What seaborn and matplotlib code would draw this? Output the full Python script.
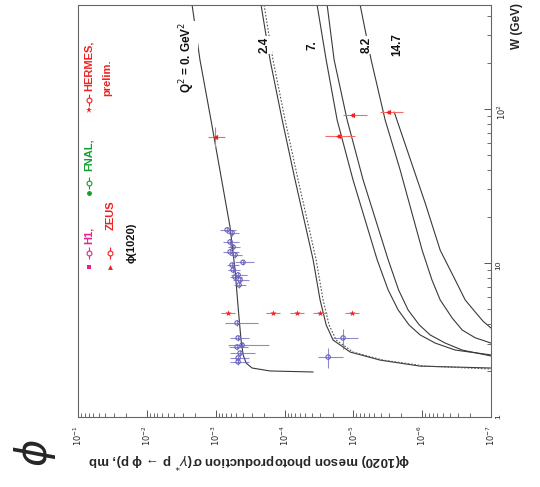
import matplotlib
matplotlib.use("Agg")
import pandas as pd
import seaborn as sns
import matplotlib.pyplot as plt
from matplotlib.ticker import FixedLocator, FixedFormatter, LogLocator, NullFormatter

# ---------------- model curves: W (GeV) vs sigma (mb) ----------------
q0_w = [473, 208, 84.8, 17.1, 9.01, 5.18, 3.16, 2.53, 2.24, 2.08, 1.99, 1.96]
q0_sig = [2.20e-3, 1.69e-3, 1.17e-3, 6.18e-4, 5.23e-4, 4.72e-4, 4.28e-4, 3.99e-4, 3.61e-4, 2.96e-4, 1.62e-4, 3.84e-5]

q24_w = [473, 208, 84.8, 34.6, 10.5, 5.75, 3.96, 3.16, 2.64, 2.34, 2.14, 2.08]
q24_sig = [2.19e-4, 1.62e-4, 1.08e-4, 7.02e-5, 3.84e-5, 3.04e-5, 2.48e-5, 1.97e-5, 1.11e-5, 4.07e-6, 1.07e-6, 1.0e-7]

q24b_w = [473, 208, 84.8, 34.6, 10.5, 5.75, 3.96, 3.16, 2.64, 2.34, 2.14, 2.05]
q24b_sig = [1.98e-4, 1.47e-4, 9.8e-5, 6.34e-5, 3.47e-5, 2.75e-5, 2.25e-5, 1.78e-5, 1.01e-5, 3.69e-6, 9.04e-7, 1.0e-7]

q7_w = [473, 208, 84.8, 34.6, 10.5, 6.68, 4.95, 3.96, 3.41, 3.02, 2.72, 2.53]
q7_sig = [3.36e-5, 2.48e-5, 1.72e-5, 1.01e-5, 4.51e-6, 3.12e-6, 2.23e-6, 1.55e-6, 1.07e-6, 6.47e-7, 3.31e-7, 1.0e-7]

q7b_w = [473, 208, 84.8, 34.6, 10.5, 6.68, 4.95, 3.96, 3.41, 3.02, 2.72, 2.49]
q7b_sig = [2.40e-5, 1.90e-5, 1.23e-5, 7.21e-6, 3.12e-6, 2.20e-6, 1.60e-6, 1.10e-6, 7.65e-7, 4.63e-7, 2.62e-7, 1.0e-7]

q82_w = [473, 208, 84.8, 40.2, 12.1, 7.76, 5.75, 4.39, 3.67, 3.27, 3.02]
q82_sig = [7.96e-6, 5.51e-6, 3.45e-6, 2.09e-6, 1.0e-6, 7.21e-7, 5.47e-7, 3.66e-7, 2.62e-7, 1.70e-7, 1.0e-7]

q147_w = [95.6, 24.5, 12.1, 7.76, 5.75, 4.81, 4.18, 3.78]
q147_sig = [2.55e-6, 9.04e-7, 5.47e-7, 3.31e-7, 2.37e-7, 1.70e-7, 1.30e-7, 1.0e-7]

# ---------------- measurements ----------------
# low-energy photoproduction compilation
blue_w = [16.4, 15.7, 13.7, 12.7, 11.8, 11.3, 10.1, 9.70, 9.01, 8.36, 8.11, 7.76, 7.20,
          4.08, 3.26, 2.93, 2.85, 2.60, 2.42, 2.28, 2.45, 3.26]
blue_sig = [6.82e-4, 5.78e-4, 6.18e-4, 5.58e-4, 6.18e-4, 5.23e-4, 4.0e-4, 5.78e-4, 5.58e-4,
            4.72e-4, 5.23e-4, 4.42e-4, 4.57e-4, 4.89e-4, 4.72e-4, 4.13e-4, 4.89e-4,
            4.42e-4, 4.72e-4, 4.72e-4, 2.32e-5, 1.41e-5]
blue_sig_rel = [0.25, 0.2, 0.25, 0.2, 0.25, 0.2, 0.3, 0.2, 0.2, 0.25, 0.2, 0.25, 0.2,
                0.5, 0.3, 0.6, 0.3, 0.4, 0.3, 0.3, 0.4, 0.4]
blue_w_rel = [0.04, 0.04, 0.04, 0.04, 0.04, 0.04, 0.04, 0.04, 0.04, 0.04, 0.04, 0.04, 0.04,
              0.05, 0.04, 0.04, 0.04, 0.04, 0.04, 0.04, 0.15, 0.15]

# ZEUS
zeus_w = [65.8, 66.8, 91.4, 95.6]
zeus_sig = [1.02e-3, 1.66e-5, 1.04e-5, 3.12e-6]
zeus_sig_lo = [7.3e-4, 9.5e-6, 6.3e-6, 1.9e-6]
zeus_sig_hi = [1.3e-3, 2.57e-5, 1.4e-5, 4.1e-6]
zeus_w_lo = [56.6, 65.0, 89.0, 93.0]
zeus_w_hi = [76.0, 68.5, 94.0, 98.0]

# HERMES (preliminary)
hermes_w = [4.73, 4.73, 4.73, 4.73, 4.73]
hermes_sig = [6.6e-4, 1.47e-4, 6.56e-5, 3.04e-5, 1.04e-5]

sigma_ticks = [1e-1, 1e-2, 1e-3, 1e-4, 1e-5, 1e-6, 1e-7]
sigma_tick_labels = [r"$10^{-1}$", r"$10^{-2}$", r"$10^{-3}$", r"$10^{-4}$",
                     r"$10^{-5}$", r"$10^{-6}$", r"$10^{-7}$"]
w_ticks = [1, 10, 100]
w_tick_labels = ["1", "10", r"$10^{2}$"]
q2_labels = ["Q$^2$ = 0. GeV$^2$", "2.4", "7.", "8.2", "14.7"]

# ---------------- figure ----------------
sns.set_theme(style="white")
plt.rcParams["font.family"] = ["Liberation Sans", "DejaVu Sans"]
plt.rcParams["mathtext.fontset"] = "dejavusans"

fig = plt.figure(figsize=(5.4, 4.87), dpi=100)
fig.patch.set_facecolor("white")
ax = fig.add_axes([78 / 540, 1 - 417 / 487, 413 / 540, 412 / 487])
ax.set_facecolor("white")
ax.set_xscale("log")
ax.set_yscale("log")

solid = pd.concat([
    pd.DataFrame({"W": q0_w, "sigma": q0_sig, "curve": "0"}),
    pd.DataFrame({"W": q24_w, "sigma": q24_sig, "curve": "2.4"}),
    pd.DataFrame({"W": q7_w, "sigma": q7_sig, "curve": "7"}),
    pd.DataFrame({"W": q7b_w, "sigma": q7b_sig, "curve": "7b"}),
    pd.DataFrame({"W": q82_w, "sigma": q82_sig, "curve": "8.2"}),
    pd.DataFrame({"W": q147_w, "sigma": q147_sig, "curve": "14.7"}),
])
dotted = pd.DataFrame({"W": q24b_w, "sigma": q24b_sig, "curve": "2.4b"})

sns.lineplot(data=solid, x="sigma", y="W", units="curve", estimator=None, sort=False,
             color="#3a3a3a", lw=0.8, ax=ax, legend=False)
sns.lineplot(data=dotted, x="sigma", y="W", units="curve", estimator=None, sort=False,
             color="#555555", lw=0.8, ls=(0, (1.5, 1.5)), ax=ax, legend=False)

blue = "#6a62c0"
bs_err = [[s * r for s, r in zip(blue_sig, blue_sig_rel)], [s * r for s, r in zip(blue_sig, blue_sig_rel)]]
bw_err = [[w * r for w, r in zip(blue_w, blue_w_rel)], [w * r for w, r in zip(blue_w, blue_w_rel)]]
ax.errorbar(blue_sig, blue_w, xerr=bs_err, yerr=bw_err, fmt="none", ecolor=blue,
            elinewidth=0.8, alpha=0.75, zorder=3)
sns.scatterplot(x=blue_sig, y=blue_w, marker="o", s=10, facecolor="none",
                edgecolor=blue, linewidth=0.8, ax=ax, zorder=4)

red = "#f02020"
ax.errorbar(zeus_sig, zeus_w,
            xerr=[[s - lo for s, lo in zip(zeus_sig, zeus_sig_lo)], [hi - s for s, hi in zip(zeus_sig, zeus_sig_hi)]],
            yerr=[[w - lo for w, lo in zip(zeus_w, zeus_w_lo)], [hi - w for w, hi in zip(zeus_w, zeus_w_hi)]],
            fmt="none", ecolor="#f46a6a", elinewidth=0.8, zorder=3)
sns.scatterplot(x=zeus_sig, y=zeus_w, marker="<", s=14, color=red, linewidth=0, ax=ax, zorder=4)

ax.errorbar(hermes_sig, hermes_w, xerr=[[s * 0.2 for s in hermes_sig], [s * 0.25 for s in hermes_sig]],
            fmt="none", ecolor="#f46a6a", elinewidth=0.8, zorder=3)
sns.scatterplot(x=hermes_sig, y=hermes_w, marker="*", s=22, color=red, linewidth=0, ax=ax, zorder=4)

ax.set_xlim(1e-1, 1e-7)
ax.set_ylim(1, 473)
ax.set_xlabel("")
ax.set_ylabel("")

ax.xaxis.set_major_locator(FixedLocator(sigma_ticks))
ax.xaxis.set_major_formatter(FixedFormatter(sigma_tick_labels))
ax.xaxis.set_minor_locator(LogLocator(base=10, subs=range(2, 10), numticks=20))
ax.xaxis.set_minor_formatter(NullFormatter())
ax.yaxis.tick_right()
ax.yaxis.set_major_locator(FixedLocator(w_ticks))
ax.yaxis.set_major_formatter(FixedFormatter(w_tick_labels))
ax.yaxis.set_minor_locator(LogLocator(base=10, subs=range(2, 10), numticks=20))
ax.yaxis.set_minor_formatter(NullFormatter())
ax.tick_params(axis="x", which="both", direction="in", bottom=True, top=False,
               labelrotation=90, labelsize=6, pad=6, color="#555555")
ax.tick_params(axis="y", which="both", direction="in", right=True, left=False,
               labelrotation=90, labelsize=6, pad=3, color="#555555")
ax.tick_params(which="major", length=5, width=0.7)
ax.tick_params(which="minor", length=3, width=0.6)
for sp in ax.spines.values():
    sp.set_color("#666666")
    sp.set_linewidth(0.8)

# curve labels
lab_pos = [(0.264, 0.874), (0.453, 0.903), (0.569, 0.903), (0.70, 0.903), (0.772, 0.903)]
for t, (xf, yf) in zip(q2_labels, lab_pos):
    ax.text(xf, yf, t, transform=ax.transAxes, rotation=90, ha="center", va="center",
            fontsize=8.5, fontweight="bold", color="#111111",
            bbox=dict(facecolor="white", edgecolor="none", pad=0.5), zorder=5)

# legend block
tr = ax.transAxes
def legend_entry(xf, y_mark, y_icon, y_text, marker, color, text, ms=3.5):
    ax.plot([xf], [y_mark], marker=marker, color=color, ms=ms, mew=0, transform=tr, clip_on=False)
    ax.plot([xf], [y_icon], marker="|", color=color, ms=8, mew=0.8, transform=tr)
    ax.plot([xf], [y_icon], marker="o", mfc="white", mec=color, ms=3.5, mew=0.8, transform=tr)
    if text:
        ax.text(xf, y_text, text, transform=tr, rotation=90, ha="center", va="center",
                fontsize=8, fontweight="bold", color=color)

legend_entry(0.027, 0.364, 0.398, 0.442, "s", "#e8208c", "H1,")
legend_entry(0.027, 0.544, 0.568, 0.636, "o", "#10a030", "FNAL,")
legend_entry(0.027, 0.745, 0.769, 0.853, "*", red, "HERMES,", ms=5)
legend_entry(0.078, 0.364, 0.398, 0.49, "^", red, "ZEUS")
ax.text(0.072, 0.823, "prelim.", transform=tr, rotation=90, ha="center", va="center",
        fontsize=8, fontweight="bold", color=red)
ax.text(0.13, 0.422, "\u03d5(1020)", transform=tr, rotation=90, ha="center", va="center",
        fontsize=8, fontweight="bold", color="#111111")

# axis titles
fig.text(249 / 540, 1 - 460 / 487,
         "\u03d5(1020) meson photoproduction \u03c3($\\gamma^{*}$ p \u2192 \u03d5 p), mb",
         rotation=180, ha="center", va="center", fontsize=9.5, fontweight="bold")
fig.text(517 / 540, 1 - 26 / 487, "W (GeV)", rotation=90, ha="center", va="center",
         fontsize=8.5, fontweight="bold")
fig.text(35 / 540, 1 - 453 / 487, r"$\phi$", rotation=90, ha="center", va="center", fontsize=30)

fig.savefig("out.png", dpi=100)
